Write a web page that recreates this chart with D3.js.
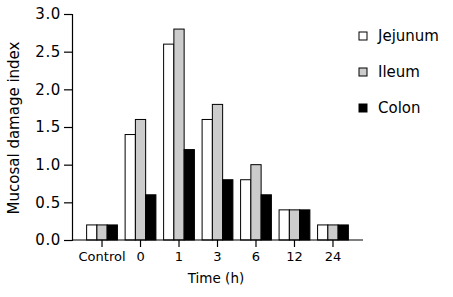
<!DOCTYPE html>
<html>
<head>
<meta charset="utf-8">
<script src="https://cdn.jsdelivr.net/npm/d3@7"></script>
<style>
  body { margin: 0; background: #fff; }
  text { font-family: "DejaVu Sans", Verdana, sans-serif; fill: #000; }
</style>
</head>
<body>
<div id="chart"></div>
<script>
// chart data
const categories = ['Control', '0', '1', '3', '6', '12', '24'];
const series = ['Jejunum', 'Ileum', 'Colon'];
const jejunum = [0.2, 1.4, 2.6, 1.6, 0.8, 0.4, 0.2];
const ileum   = [0.2, 1.6, 2.8, 1.8, 1.0, 0.4, 0.2];
const colon   = [0.2, 0.6, 1.2, 0.8, 0.6, 0.4, 0.2];
const yTicks = [0, 0.5, 1.0, 1.5, 2.0, 2.5, 3.0];
const colors = ['#ffffff', '#cccccc', '#000000'];

const width = 453, height = 297;
const values = [jejunum, ileum, colon];

const svg = d3.select('#chart').append('svg')
    .attr('width', width).attr('height', height);

const x = d3.scaleBand().domain(categories).range([72, 363])
    .paddingInner(0.2).paddingOuter(0.38);
const xs = d3.scaleBand().domain(series).range([0, x.bandwidth()]);
const y = d3.scaleLinear().domain([0, 3]).range([240, 14]);

// bars
const groups = svg.append('g').selectAll('g')
  .data(categories)
  .enter().append('g')
    .attr('transform', d => `translate(${x(d)},0)`);

groups.selectAll('rect')
  .data((c, i) => series.map((s, j) => ({ s, j, v: values[j][i] })))
  .enter().append('rect')
    .attr('x', d => xs(d.s))
    .attr('y', d => y(d.v))
    .attr('width', xs.bandwidth())
    .attr('height', d => y(0) - y(d.v))
    .attr('fill', d => colors[d.j])
    .attr('stroke', '#000')
    .attr('stroke-width', 1);

// y axis
const yAxis = svg.append('g')
    .attr('transform', 'translate(72,0)')
    .call(d3.axisLeft(y).tickValues(yTicks).tickFormat(d3.format('.1f')).tickSizeOuter(0).tickSize(8).tickPadding(3));
yAxis.selectAll('text').style('font-size', '15px').attr('letter-spacing', '0.6px');

// x axis
const xAxis = svg.append('g')
    .attr('transform', 'translate(0,240)')
    .call(d3.axisBottom(x).tickSizeOuter(0).tickSize(7).tickPadding(5));
xAxis.select('.domain').attr('d', 'M72,0H363');
xAxis.selectAll('text').style('font-size', '13px');
svg.selectAll('.domain, .tick line').attr('stroke', '#000').attr('stroke-width', 1.2);

// axis titles
svg.append('text')
    .attr('x', 216).attr('y', 283)
    .attr('text-anchor', 'middle')
    .style('font-size', '13.5px')
    .text('Time (h)');

svg.append('text')
    .attr('transform', 'translate(19,128) rotate(-90)')
    .attr('text-anchor', 'middle')
    .style('font-size', '15px')
    .text('Mucosal damage index');

// legend
const legend = svg.append('g').selectAll('g')
  .data(series)
  .enter().append('g')
    .attr('transform', (d, i) => `translate(359,${32 + i * 36})`);
legend.append('rect')
    .attr('width', 8).attr('height', 8)
    .attr('fill', (d, i) => colors[i])
    .attr('stroke', '#000');
legend.append('text')
    .attr('x', 19).attr('y', 9)
    .style('font-size', '15px')
    .text(d => d);
</script>
</body>
</html>
